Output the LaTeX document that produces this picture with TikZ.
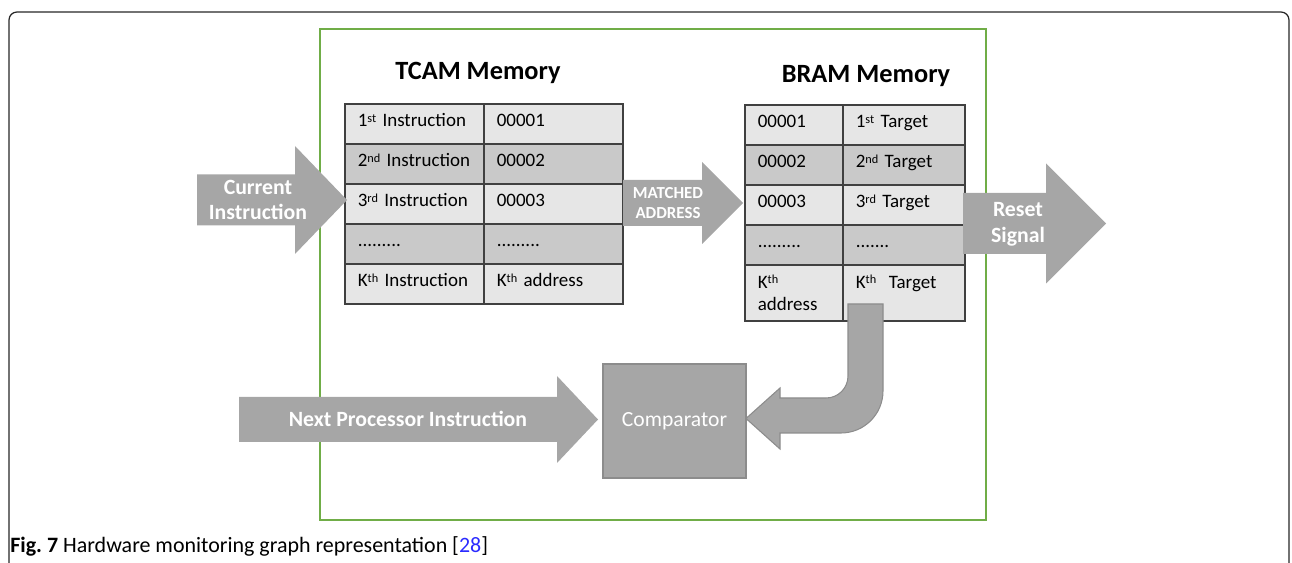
\documentclass[tikz,border=0pt]{standalone}
\usepackage{fontspec}
\setmainfont{Carlito}
\usetikzlibrary{positioning}
\definecolor{cellLight}{HTML}{E6E6E6}
\definecolor{cellDark}{HTML}{C9C9C9}
\definecolor{blockGray}{HTML}{A6A6A6}
\definecolor{blockEdge}{HTML}{8C8C8C}
\definecolor{frameGreen}{HTML}{70AD47}
\definecolor{tableLine}{HTML}{404040}
\definecolor{refBlue}{HTML}{2B2BFF}
\newcommand\supr[1]{\raisebox{0.5ex}{\fontsize{7}{7}\selectfont #1}}
\begin{document}
\begin{tikzpicture}[x=0.02cm, y=-0.02cm,
    cell/.style={draw=tableLine, line width=0.9pt, anchor=north west, align=left,
        inner xsep=0.26cm, inner ysep=0pt, minimum height=0.8cm,
        text height=8pt, text depth=4.5pt,
        font=\fontsize{10.8}{12.6}\selectfont},
    tallcell/.style={minimum height=1.12cm, text height={}, text depth={}},
    tcamcell/.style={cell, text width=2.26cm, minimum width=2.78cm},
    bramleft/.style={cell, text width=1.44cm, minimum width=1.96cm},
    bramright/.style={cell, text width=1.92cm, minimum width=2.44cm},
    heading/.style={font=\fontsize{15}{18}\selectfont\bfseries},
    blockarrow/.style={fill=blockGray},
    arrowtext/.style={text=white, align=center, inner sep=0pt,
        font=\fontsize{12.4}{14.7}\selectfont\bfseries},
    comparebox/.style={fill=blockGray, draw=blockEdge, line width=0.8pt,
        minimum width=2.86cm, minimum height=2.28cm, text=white,
        font=\fontsize{12.3}{14}\selectfont}]
\useasboundingbox (0,0) rectangle (1292,563);
% outer frame and green box
\draw[line width=0.7pt, rounded corners=0.16cm, color=black!85] (9,563) -- (9,12) -- (1289,12) -- (1289,563);
\draw[frameGreen, line width=1.1pt] (320,29) rectangle (986,520);
% headings
\node[heading] (tcamhead) at (478,73) {TCAM Memory};
\node[heading] (bramhead) at (866,76) {BRAM Memory};
% TCAM table
\node[tcamcell, fill=cellLight] (t1a) at (344,103) {1\supr{st}~Instruction};
\node[tcamcell, fill=cellLight] (t1b) at (483,103) {00001};
\node[tcamcell, fill=cellDark] (t2a) at (344,143) {2\supr{nd}~Instruction};
\node[tcamcell, fill=cellDark] (t2b) at (483,143) {00002};
\node[tcamcell, fill=cellLight] (t3a) at (344,183) {3\supr{rd}~Instruction};
\node[tcamcell, fill=cellLight] (t3b) at (483,183) {00003};
\node[tcamcell, fill=cellDark] (t4a) at (344,223) {.........};
\node[tcamcell, fill=cellDark] (t4b) at (483,223) {.........};
\node[tcamcell, fill=cellLight] (t5a) at (344,263) {K\supr{th}~Instruction};
\node[tcamcell, fill=cellLight] (t5b) at (483,263) {K\supr{th}~address};
% BRAM table
\node[bramleft, fill=cellLight] (b1a) at (744,104) {00001};
\node[bramright, fill=cellLight] (b1b) at (842,104) {1\supr{st}~Target};
\node[bramleft, fill=cellDark] (b2a) at (744,144) {00002};
\node[bramright, fill=cellDark] (b2b) at (842,144) {2\supr{nd}~Target};
\node[bramleft, fill=cellLight] (b3a) at (744,184) {00003};
\node[bramright, fill=cellLight] (b3b) at (842,184) {3\supr{rd}~Target};
\node[bramleft, fill=cellDark] (b4a) at (744,224) {.........};
\node[bramright, fill=cellDark] (b4b) at (842,224) {.......};
\node[bramleft, tallcell, fill=cellLight] (b5a) at (744,264) {K\supr{th}\\address};
\node[bramright, tallcell, fill=cellLight] (b5b) at (842,264) {K\supr{th}\ \ Target\\\mbox{}};
% block arrows
\fill[blockarrow] (197,174.5) -- (295,174.5) -- (295,146) -- (347,200) -- (295,254) -- (295,225.5) -- (197,225.5) -- cycle;
\node[arrowtext] (curinstr) at (258,200) {Current\\Instruction};
\fill[blockarrow] (623,180) -- (702,180) -- (702,162) -- (743,203) -- (702,244) -- (702,226) -- (623,226) -- cycle;
\node[arrowtext, font=\fontsize{9.6}{11.3}\selectfont\bfseries] (matched) at (668,203) {MATCHED\\ADDRESS};
\fill[blockarrow] (963,193) -- (1046,193) -- (1046,163.5) -- (1106,223.5) -- (1046,283.5) -- (1046,254) -- (963,254) -- cycle;
\node[arrowtext] (reset) at (1018,224) {Reset\\Signal};
% comparator part
\node[comparebox] (comp) at (674.5,421) {Comparator};
\fill[blockarrow] (239,397) -- (557,397) -- (557,376) -- (598,419.5) -- (557,463) -- (557,442) -- (239,442) -- cycle;
\node[arrowtext] (nextinstr) at (408,419) {Next Processor Instruction};
\draw[blockarrow, draw=blockEdge, line width=0.6pt] (848,304) -- (848,376) .. controls (848,388.2) and (838.2,398) .. (826,398)
    -- (780,398) -- (780,388) -- (746,418.5) -- (780,449) -- (780,433) -- (841,433)
    .. controls (864.2,433) and (883,414.2) .. (883,391) -- (883,304) -- cycle;
% caption
\node[anchor=base west, inner sep=0pt, font=\fontsize{12.5}{14}\selectfont] (caption) at (10,553)
    {\textbf{Fig.\ 7} Hardware monitoring graph representation [\textcolor{refBlue}{28}]};
\end{tikzpicture}
\end{document}
